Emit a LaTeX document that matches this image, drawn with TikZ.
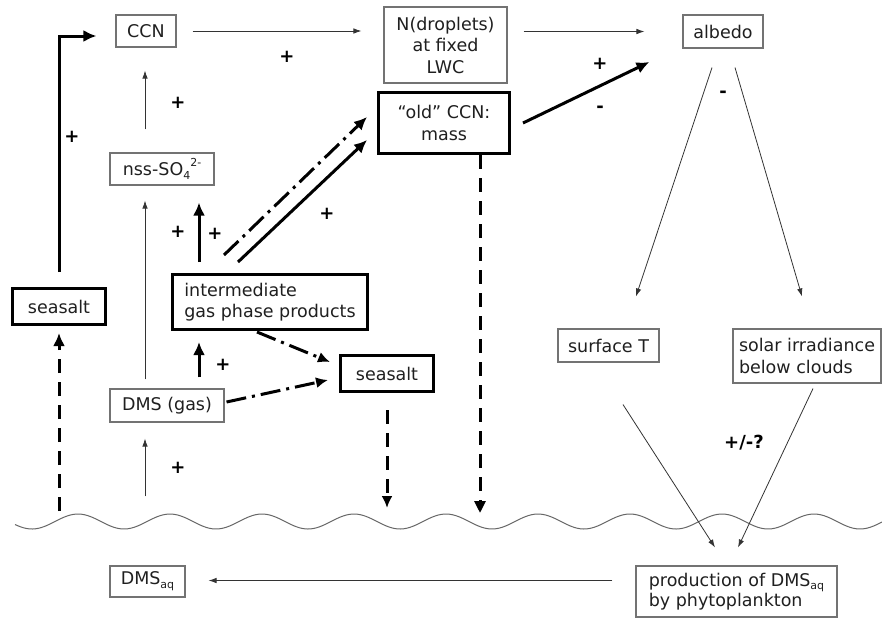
\documentclass[tikz,border=0pt]{standalone}
\usepackage{fontspec}
\setmainfont{DejaVu Sans}
\usetikzlibrary{arrows.meta,calc}
\newcommand\mysubtxt[1]{\raisebox{-0.22em}{\fontsize{11}{11}\selectfont #1}}
\newcommand\mysuptxt[1]{\raisebox{0.5em}{\fontsize{11}{11}\selectfont #1}}
\begin{document}
\begin{tikzpicture}[x=1pt,y=-1pt,
  every node/.style={font=\fontsize{17.5}{21.5}\selectfont, text=black!88, inner sep=0pt, align=center},
  tbox/.style={draw=black!55, line width=1.1pt},
  kbox/.style={draw=black, line width=3pt},
  thinarr/.style={draw=black!80, line width=0.8pt, -{Latex[length=8pt,width=5.5pt]}},
  thickarr/.style={draw=black, line width=3pt, -{Latex[length=13pt,width=12pt]}},
  dashpat/.style={dash pattern=on 14pt off 9pt},
  dashdotpat/.style={dash pattern=on 20pt off 6pt on 3pt off 6pt},
  sign/.style={font=\fontsize{18}{18}\selectfont\bfseries, text=black},
  wave/.style={draw=black!60, line width=1pt}
]
\useasboundingbox (0,0) rectangle (882,619);

% nodes
\node[tbox, minimum width=60pt, minimum height=32pt] (CCN) at (146,31) {CCN};
\node[tbox, minimum width=123pt, minimum height=76pt] (N) at (445.5,45) {N(droplets)\\at fixed\\LWC};
\node[kbox, minimum width=131pt, minimum height=61pt] (oldccn) at (444,123) {“old” CCN:\\mass};
\node[tbox, minimum width=80pt, minimum height=33pt] (albedo) at (723,31.5) {albedo};
\node[tbox, minimum width=104pt, minimum height=32pt] (nss) at (162,169) {nss-SO\mysubtxt{4}\mysuptxt{2-}};
\node[kbox, minimum width=93pt, minimum height=36pt] (seasaltL) at (59,306.5) {seasalt};
\node[kbox, minimum width=195pt, minimum height=55pt, align=left] (inter) at (270,302) {intermediate\\gas phase products};
\node[tbox, minimum width=114pt, minimum height=33pt] (DMSgas) at (167,405.5) {DMS (gas)};
\node[kbox, minimum width=93pt, minimum height=36pt] (seasaltR) at (387,373.5) {seasalt};
\node[tbox, minimum width=101pt, minimum height=33pt] (surfT) at (608.5,345.5) {surface T};
\node[tbox, minimum width=148pt, minimum height=54pt, align=left] (solar) at (807,356) {solar irradiance\\below clouds};
\node[tbox, minimum width=201pt, minimum height=51pt, align=left, font=\fontsize{17.5}{19}\selectfont] (prod) at (736.5,591.5) {production of DMS\mysubtxt{aq}\\by phytoplankton};
\node[tbox, minimum width=75pt, minimum height=31pt] (DMSaq) at (147.5,581.5) {DMS\mysubtxt{aq}};

% sea surface
\draw[wave] plot[domain=15:882, samples=300, smooth] (\x, {521.5 - 7.5*cos(3.91304*(\x-78))});
\coordinate (w0) at (59,511);
\coordinate (w1) at (387,508);
\coordinate (w2) at (480,513);

% thin connectors
\draw[thinarr] ($(CCN.east)+(16,0)$) -- ($(CCN.east -| N.west)+(-22,0)$);
\draw[thinarr] ($(N.east |- albedo.west)+(16,0)$) -- ($(albedo.west)+(-38,0)$);
\draw[thinarr] ($(albedo.south)+(-11,19)$) -- ($(surfT.north)+(27.5,-32)$);
\draw[thinarr] ($(albedo.south)+(12,19)$) -- ($(solar.north)+(-5,-32)$);
\draw[thinarr] ($(surfT.south)+(14.5,42)$) -- ($(prod.north)+(-21.5,-18)$);
\draw[thinarr] ($(solar.south)+(6,5)$) -- ($(prod.north)+(1.5,-18)$);
\draw[thinarr] ($(prod.west |- DMSaq.east)+(-23,-1)$) -- ($(DMSaq.east)+(23,-1)$);
\draw[thinarr] ($(nss.north -| CCN.south)+(-1,-23)$) -- ($(CCN.south)+(-1,23)$);
\draw[thinarr] ($(DMSgas.north)+(-22,-9)$) -- ($(nss.south)+(-17,15)$);
\draw[thinarr] ($(DMSaq.north)+(-2.5,-69)$) -- ($(DMSgas.south)+(-22,16)$);

% thick connectors
\draw[thickarr] ($(oldccn.east)+(12,0)$) -- ($(albedo.west)+(-33,30.5)$);
\draw[thickarr] ($(inter.north)+(-71,-11)$) -- ($(nss.south)+(37,17)$);
\draw[thickarr] ($(DMSgas.north)+(32,-11)$) -- ($(inter.south)+(-71,11)$);
\draw[thickarr] ($(inter.north)+(-32,-11)$) -- ($(oldccn.west)+(-10,17)$);
\draw[thickarr] ($(seasaltL.north)+(0,-15)$) |- ($(CCN.west)+(-19,5)$);

% dash-dot connectors
\draw[thickarr, dashdotpat] ($(inter.north)+(-46,-18)$) -- ($(oldccn.west)+(-10,-6)$);
\draw[thickarr, dashdotpat, -{Latex[length=12pt,width=11pt]}] ($(inter.south)+(-13,1)$) -- ($(seasaltR.west)+(-9,-11.5)$);
\draw[thickarr, dashdotpat, -{Latex[length=12pt,width=11pt]}] ($(DMSgas.east)+(2,-3.5)$) -- ($(seasaltR.west)+(-11,6.5)$);

% dashed connectors
\draw[thickarr, dashpat] (w0) -- ($(seasaltL.south)+(0,7)$);
\draw[thickarr, dashpat, -{Latex[length=12pt,width=11pt]}] ($(seasaltR.south)+(0,17)$) -- (w1);
\draw[thickarr, dashpat, -{Triangle[length=12pt,width=11pt]}] ($(oldccn.south)+(36,0)$) -- (w2);

% signs
\node[sign] (s1) at (287,57) {+};
\node[sign] (s2) at (178,103) {+};
\node[sign] (s3) at (72,137) {+};
\node[sign] (s4) at (600,64) {+};
\node[sign] (s5) at (600,109) {-};
\node[sign] (s6) at (723,94) {-};
\node[sign] (s7) at (178,232) {+};
\node[sign] (s8) at (215,234) {+};
\node[sign] (s9) at (327,214) {+};
\node[sign] (s10) at (223,365) {+};
\node[sign] (s11) at (178,468) {+};
\node[sign] (s12) at (744,443) {+/-?};
\end{tikzpicture}
\end{document}
